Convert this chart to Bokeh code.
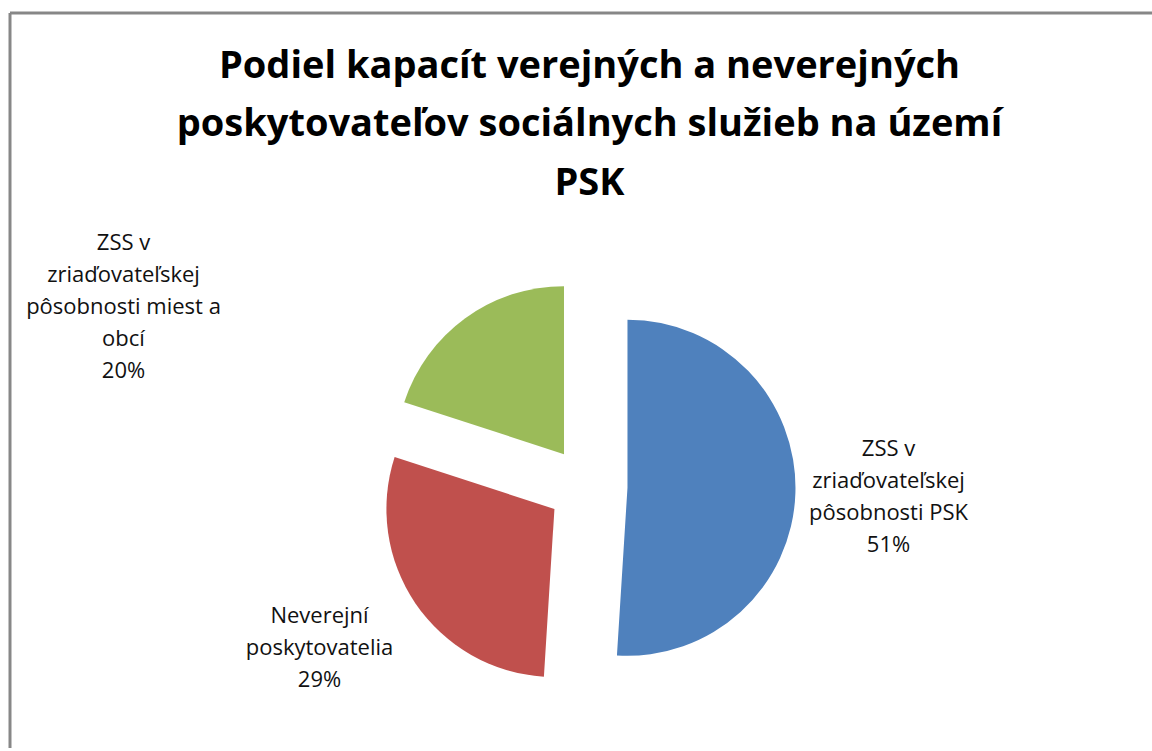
import math
from bokeh.plotting import figure
from bokeh.models import Range1d, ColumnDataSource, InlineStyleSheet
from bokeh.core.properties import value
from bokeh.embed import file_html
from bokeh.resources import INLINE

# ---- data ----
categories = [
    "ZSS v\nzriaďovateľskej\npôsobnosti PSK",
    "Neverejní\nposkytovatelia",
    "ZSS v\nzriaďovateľskej\npôsobnosti miest a\nobcí",
]
shares = [51, 29, 20]
colors = ["#4F81BD", "#C0504D", "#9BBB59"]
title_lines = [
    "Podiel kapacít verejných a neverejných",
    "poskytovateľov sociálnych služieb na území",
    "PSK",
]

# ---- layout (screen pixels) ----
W, H = 1152, 748
CX, CY = 587, 486          # pie centre (screen coords)
R = 168
EXPLODE = 40
label_centres = [(888, 494), (319, 645), (123, 304)]
LABEL_LINE = 32
TITLE_X = 589
TITLE_CENTRES = [62, 120, 179]

def sy(y):
    return H - y

p = figure(width=W, height=H, output_backend="svg", toolbar_location=None,
           x_range=Range1d(0, W), y_range=Range1d(0, H),
           x_axis_type=None, y_axis_type=None, min_border=0,
           outline_line_color=None, background_fill_color="white",
           border_fill_color="white")
p.xgrid.visible = False
p.ygrid.visible = False
p.stylesheets = [InlineStyleSheet(css=":host { overflow: hidden !important; scrollbar-width: none; } "
                                      "* { scrollbar-width: none; }")]

# chart border (only left and top visible in the reference)
p.segment(x0=[9.5, 9.5], y0=[0, sy(12.5)], x1=[9.5, W], y1=[sy(12.5), sy(12.5)],
          line_color="#878787", line_width=3, line_cap="butt")

# pie wedges
total = float(sum(shares))
xs, ys, sa, ea = [], [], [], []
cum = 0.0
for v in shares:
    a0 = cum / total
    a1 = (cum + v) / total
    cum += v
    start = math.radians(90 - 360 * a0)
    end = math.radians(90 - 360 * a1)
    mid = (start + end) / 2
    xs.append(CX + EXPLODE * math.cos(mid))
    ys.append(sy(CY) + EXPLODE * math.sin(mid))
    sa.append(start)
    ea.append(end)

src = ColumnDataSource(dict(x=xs, y=ys, start=sa, end=ea, color=colors))
p.wedge(x="x", y="y", radius=R, start_angle="start", end_angle="end",
        direction="clock", fill_color="color", line_color=None, source=src)

# data labels
lx, ly, lt = [], [], []
for cat, v, (cx, cy) in zip(categories, shares, label_centres):
    lines = cat.split("\n") + [f"{v}%"]
    n = len(lines)
    for i, line in enumerate(lines):
        lx.append(cx)
        ly.append(sy(cy + (i - (n - 1) / 2) * LABEL_LINE))
        lt.append(line)
p.text(x=lx, y=ly, text=lt, text_align="center", text_baseline="middle",
       text_font=value("Open Sans"), text_font_size="22px", text_color="#111111")

# title
p.text(x=[TITLE_X] * 3, y=[sy(b) for b in TITLE_CENTRES], text=title_lines,
       text_align="center", text_baseline="middle",
       text_font=value("Open Sans"), text_font_style="bold",
       text_font_size="38px", text_color="#000000")

open("out.html", "w").write(file_html(p, INLINE))
